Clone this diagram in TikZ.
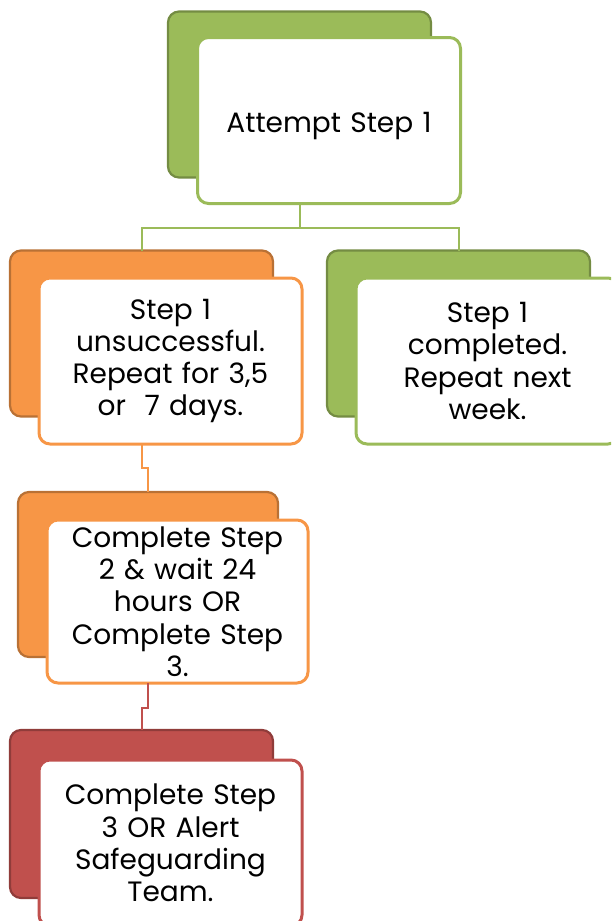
\documentclass[tikz,border=0pt]{standalone}
\usepackage{fontspec}
\setmainfont{Poppins}
\definecolor{gfill}{HTML}{9BBB59}
\definecolor{ofill}{HTML}{F79646}
\definecolor{rfill}{HTML}{C0504D}
\tikzset{
  backbox/.style={draw=#1!75!black, fill=#1, line width=2.2pt, rounded corners=11pt,
    minimum width=263pt, minimum height=166pt, inner sep=0pt, outer sep=0pt},
  frontbox/.style={draw=#1, fill=white, line width=3pt, rounded corners=11pt,
    minimum width=263pt, minimum height=166pt, inner sep=0pt, outer sep=0pt,
    align=center, text width=255pt, font=\fontsize{28}{32.3}\selectfont},
  conn/.style={draw=#1, line width=2pt}
}
\begin{document}
\begin{tikzpicture}[x=1pt,y=-1pt]
\useasboundingbox (0,0) rectangle (611,921);
\clip (0,0) rectangle (611,921);
% top
\node[backbox=gfill] (topb) at (299.5,94.5) {};
\node[frontbox=gfill, text depth=0pt, minimum height=166pt] (topf) at (329,120.5) {\raisebox{-4pt}{Attempt Step 1}};
% row 2
\node[backbox=ofill] (o1b) at (141.5,333.5) {};
\node[frontbox=ofill] (o1f) at (170.5,361) {Step 1\\unsuccessful.\\Repeat for 3,5\\or\ \ 7 days.};
\node[backbox=gfill] (g1b) at (458.5,333.5) {};
\node[frontbox=gfill] (g1f) at (487.5,361) {Step 1\\completed.\\Repeat next\\week.};
% row 3
\node[backbox=ofill, minimum width=260pt, minimum height=165pt] (o2b) at (148,574.5) {};
\node[frontbox=ofill, minimum width=261pt, minimum height=163pt] (o2f) at (177.5,601.5) {Complete Step\\2 \& wait 24\\hours OR\\Complete Step\\3.};
% row 4
\node[backbox=rfill, minimum height=168pt] (rb) at (141.5,814) {};
\node[frontbox=rfill] (rf) at (170.5,843) {Complete Step\\3 OR Alert\\Safeguarding\\Team.};
% connectors
\coordinate (jt) at (300,228);
\draw[conn=gfill] (topf.south -| jt) -- (jt);
\draw[conn=gfill] (o1b.north) |- (jt) -| (g1b.north);
\draw[conn=ofill] (o1f.south -| o1b.north) -- ++(0,24) -| (o2b.north);
\draw[conn=rfill] (o2f.south -| o2b.north) -- ++(0,25) -| (rb.north);
\end{tikzpicture}
\end{document}
